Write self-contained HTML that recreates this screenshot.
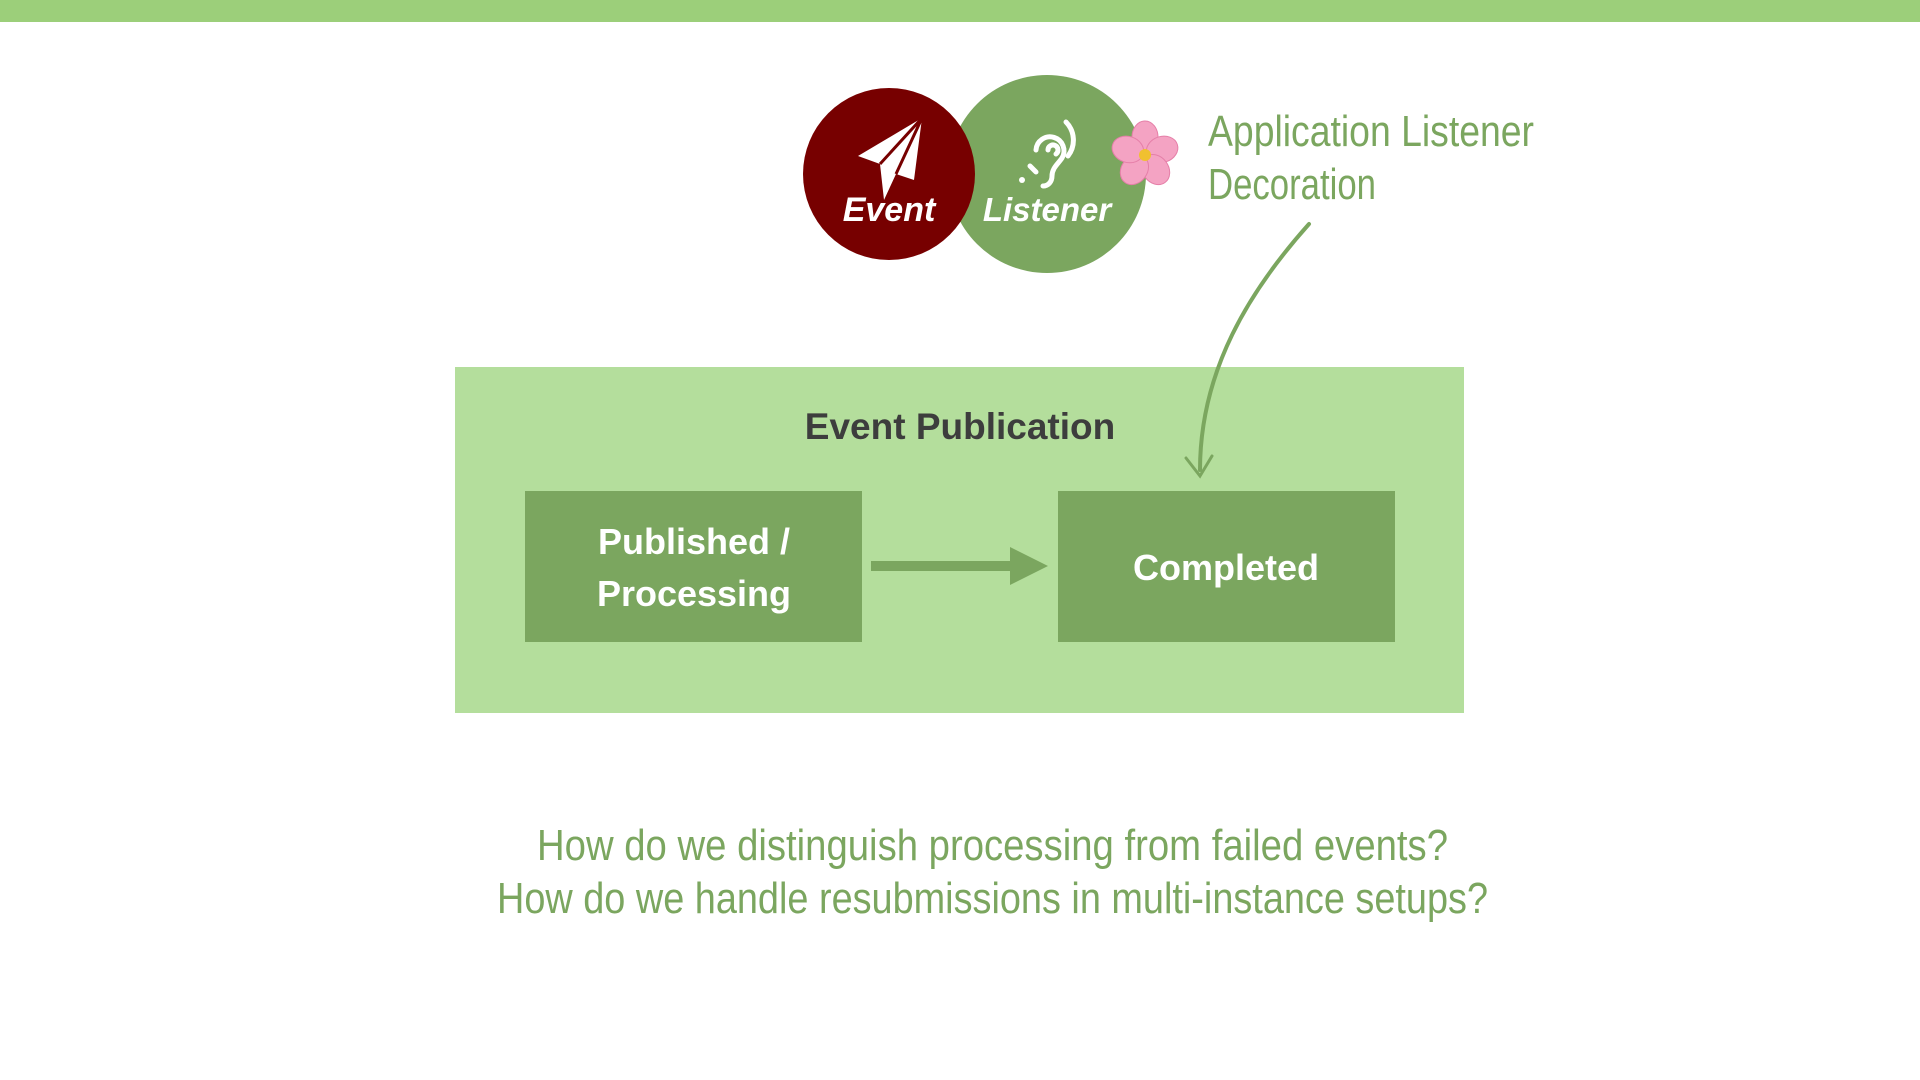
<!DOCTYPE html>
<html><head><meta charset="utf-8"><style>
html,body{margin:0;padding:0;background:#fff;}
body{width:1920px;height:1080px;overflow:hidden;position:relative;}
</style></head><body>
<svg width="1920" height="1080" viewBox="0 0 1920 1080" xmlns="http://www.w3.org/2000/svg" style="position:absolute;left:0;top:0">
<rect x="0" y="0" width="1920" height="22" fill="#9ccf7a"/>
<circle cx="1047" cy="174" r="99" fill="#7ba65f"/>
<circle cx="889" cy="174" r="86" fill="#770000"/>
<path d="M922 118 L858 156 L880 164 L884 200 L896 174 L914 180 Z" fill="#fff"/>
<path d="M880 164 L922 118 L896 174" fill="none" stroke="#770000" stroke-width="3"/>
<g fill="none" stroke="#fff" stroke-width="5" stroke-linecap="round">
<path d="M1036 150 a14 14 0 1 1 26 8 c-4 6 -10 10 -10 18 c0 6 -4 10 -9 10"/>
<path d="M1048 150 a5 5 0 1 1 8 4"/>
<path d="M1066 122 a26 26 0 0 1 2 34"/>
<path d="M1030 166 l6 6"/>
</g>
<circle cx="1022" cy="180" r="3" fill="#fff"/>
<text x="889" y="221" text-anchor="middle" font-family="Liberation Sans, sans-serif" font-weight="bold" font-style="italic" font-size="34" fill="#fff">Event</text>
<text x="1047" y="221" text-anchor="middle" font-family="Liberation Sans, sans-serif" font-weight="bold" font-style="italic" font-size="33" fill="#fff">Listener</text>
<g transform="translate(1145,155)">
<g fill="#f4a3c3" stroke="#e57fa8" stroke-width="1">
<ellipse cx="0" cy="-18" rx="13" ry="16"/>
<ellipse cx="0" cy="-18" rx="13" ry="16" transform="rotate(72)"/>
<ellipse cx="0" cy="-18" rx="13" ry="16" transform="rotate(144)"/>
<ellipse cx="0" cy="-18" rx="13" ry="16" transform="rotate(216)"/>
<ellipse cx="0" cy="-18" rx="13" ry="16" transform="rotate(288)"/>
</g>
<circle r="6" fill="#f0c030"/>
</g>
<g font-family="Liberation Sans Narrow, Liberation Sans, sans-serif" fill="#7ba65f" font-size="44">
<text x="1208" y="146" textLength="326" lengthAdjust="spacingAndGlyphs">Application  Listener</text>
<text x="1208" y="199" textLength="168" lengthAdjust="spacingAndGlyphs">Decoration</text>
</g>
<rect x="455" y="367" width="1009" height="346" fill="#b4de9c"/>
<text x="960" y="439" text-anchor="middle" font-family="Liberation Sans, sans-serif" font-weight="bold" font-size="37" fill="#3d3d3d">Event Publication</text>
<rect x="525" y="491" width="337" height="151" fill="#7ba65f"/>
<rect x="1058" y="491" width="337" height="151" fill="#7ba65f"/>
<g font-family="Liberation Sans, sans-serif" font-weight="bold" font-size="36" fill="#fff" text-anchor="middle">
<text x="694" y="554">Published /</text>
<text x="694" y="606">Processing</text>
<text x="1226" y="580">Completed</text>
</g>
<rect x="871" y="561" width="145" height="10" fill="#7ba65f"/>
<path d="M1010 547 L1048 566 L1010 585 Z" fill="#7ba65f"/>
<path d="M1309 224 C1250 290 1200 370 1200 470" fill="none" stroke="#7ba65f" stroke-width="4" stroke-linecap="round"/>
<path d="M1186 458 L1200 476 L1212 456" fill="none" stroke="#7ba65f" stroke-width="3" stroke-linecap="round"/>
<g font-family="Liberation Sans Narrow, Liberation Sans, sans-serif" fill="#7ba65f" font-size="44">
<text x="537" y="860" textLength="911" lengthAdjust="spacingAndGlyphs">How  do  we  distinguish  processing  from  failed  events?</text>
<text x="497" y="913" textLength="991" lengthAdjust="spacingAndGlyphs">How  do  we  handle  resubmissions  in  multi-instance  setups?</text>
</g>
</svg>
</body></html>
